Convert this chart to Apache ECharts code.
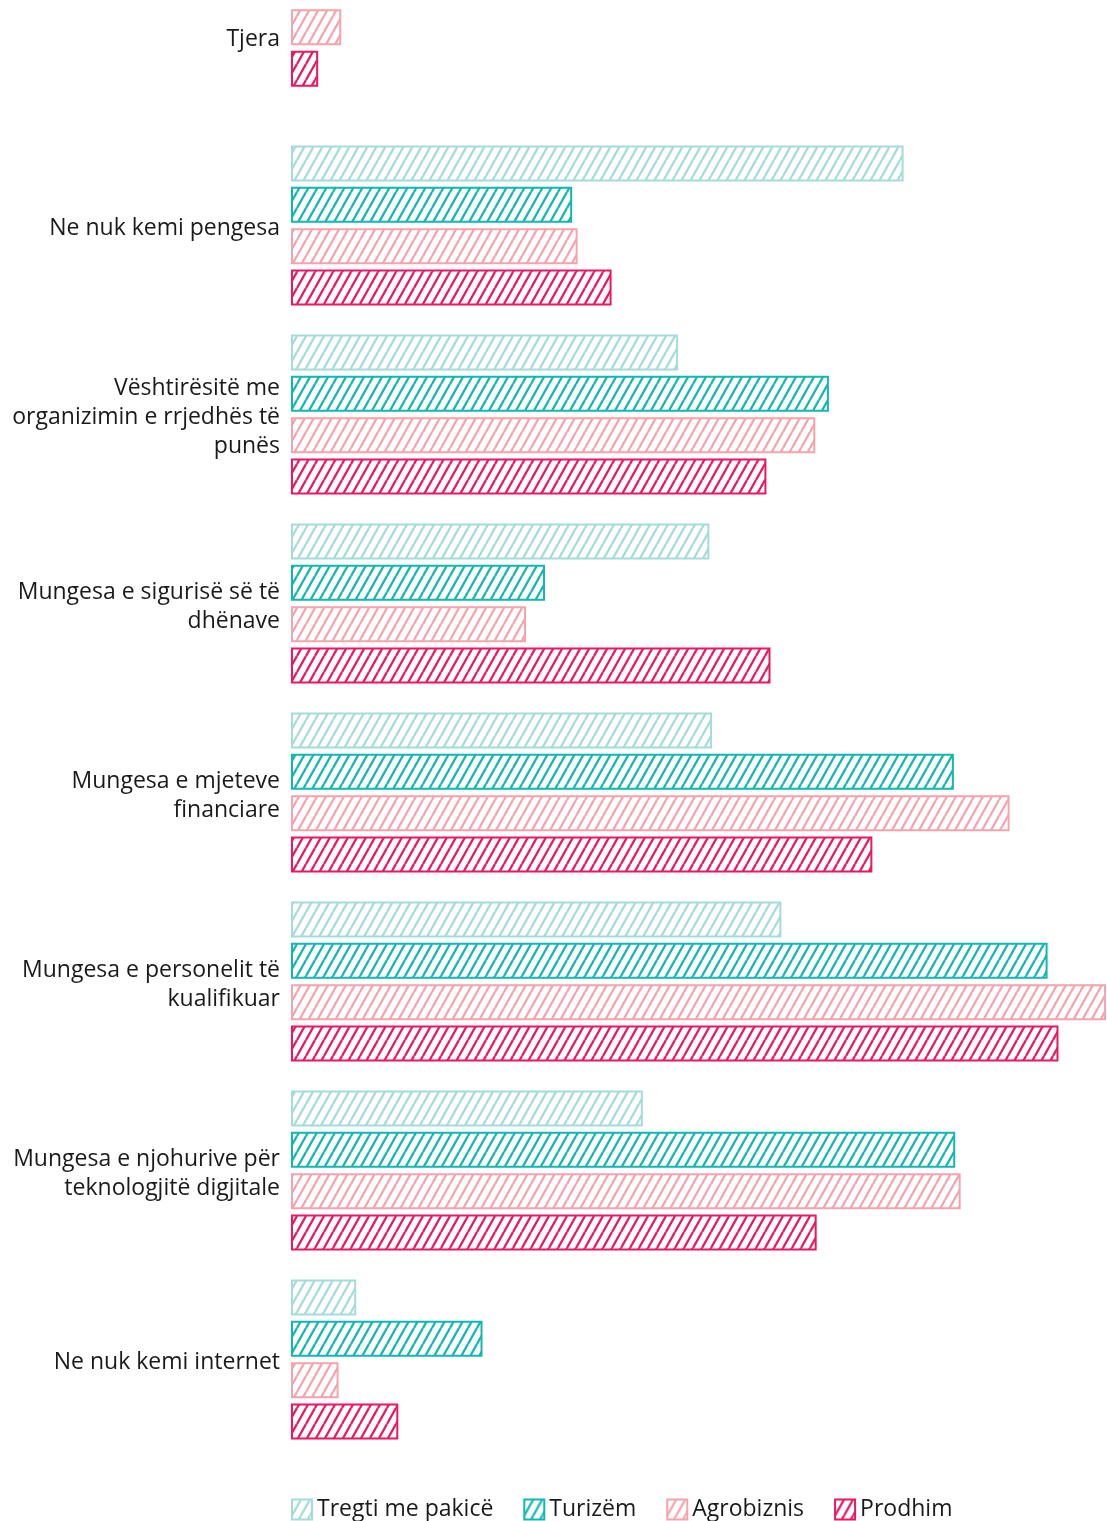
<!DOCTYPE html>
<html>
<head>
<meta charset="utf-8">
<script src="https://cdn.jsdelivr.net/npm/echarts@6/dist/echarts.min.js"></script>
<style>
	html, body { margin: 0; padding: 0; background: #fff; }
	#main { width: 1107px; height: 1521px; }
</style>
</head>
<body>
<div id="main"></div>
<script>
var categories = ['Tjera', 'Ne nuk kemi pengesa', 'Vështirësitë me\norganizimin e rrjedhës të\npunës',
	'Mungesa e sigurisë së të\ndhënave', 'Mungesa e mjeteve\nfinanciare',
	'Mungesa e personelit të\nkualifikuar', 'Mungesa e njohurive për\nteknologjitë digjitale',
	'Ne nuk kemi internet'];
var seriesNames = ['Tregti me pakicë', 'Turizëm', 'Agrobiznis', 'Prodhim'];
// percent, first value is Tjera
var tregti = [null, 45.1, 28.5, 30.8, 31.0, 36.1, 25.9, 4.8];
var turizem = [null, 20.7, 39.6, 18.7, 48.8, 55.7, 48.9, 14.1];
var agrobiznis = [3.7, 21.1, 38.6, 17.3, 52.9, 60.0, 49.3, 3.5];
var prodhim = [2.0, 23.6, 35.0, 35.3, 42.8, 56.5, 38.7, 7.9];
var colors = ['#a3dcd9', '#12b7b1', '#f5a3ac', '#ea1763'];

var byId = function(id) {
	return document.getElementById(id);
};

// steep diagonal hatch
var makeHatch = function(color) {
	var c = document.createElement('canvas');
	c.width = 9;
	c.height = 16;
	var ctx = c.getContext('2d');
	ctx.fillStyle = '#fff';
	ctx.fillRect(0, 0, 9, 16);
	ctx.strokeStyle = color;
	ctx.lineWidth = 2.3;
	ctx.beginPath();
	ctx.moveTo(-9, 16); ctx.lineTo(0, 0);
	ctx.moveTo(0, 16); ctx.lineTo(9, 0);
	ctx.moveTo(9, 16); ctx.lineTo(18, 0);
	ctx.stroke();
	return c;
};

var values = [tregti, turizem, agrobiznis, prodhim];
var series = [];
for (var i = 0; i < 4; i++) {
	var style = {
		color: { image: makeHatch(colors[i]), repeat: 'repeat' },
		borderColor: colors[i],
		borderWidth: 2
	};
	series.push({
		name: seriesNames[i],
		type: 'bar',
		xAxisIndex: 0,
		yAxisIndex: 0,
		barWidth: 36,
		barGap: '15%',
		itemStyle: style,
		data: values[i].slice(1)
	});
	if (values[i][0] != null) {
		series.push({
			name: seriesNames[i],
			type: 'bar',
			xAxisIndex: 1,
			yAxisIndex: 1,
			barWidth: 36,
			barGap: '15%',
			itemStyle: style,
			data: [values[i][0]]
		});
	}
}

var textRich = {
	t: { color: '#1a1a1a', fontFamily: 'Open Sans', fontSize: 23, lineHeight: 29 },
	s: { fontSize: 1, lineHeight: 6 }
};

// small spacer line on top pushes the label a few px down
var labelFormatter = function(value) {
	return '{s| }\n' + value.split('\n').map(function(l) {
		return '{t|' + l + '}';
	}).join('\n');
};

var option = {
	animation: false,
	textStyle: { fontFamily: 'Open Sans' },
	legend: {
		data: seriesNames,
		icon: 'rect',
		left: 286,
		top: 1493,
		itemWidth: 20,
		itemHeight: 20,
		itemGap: 30,
		textStyle: { color: '#1a1a1a', fontSize: 23, fontFamily: 'Open Sans' }
	},
	grid: [
		{ left: 291, right: 1, top: 131, height: 1323 },
		{ left: 291, right: 1, top: 10, height: 76 }
	],
	xAxis: [
		{ type: 'value', gridIndex: 0, min: 0, max: 60, show: false },
		{ type: 'value', gridIndex: 1, min: 0, max: 60, show: false }
	],
	yAxis: [{
		type: 'category',
		gridIndex: 0,
		inverse: true,
		data: categories.slice(1),
		axisLine: { show: false },
		axisTick: { show: false },
		axisLabel: { margin: 11, align: 'right', formatter: labelFormatter, rich: textRich }
	}, {
		type: 'category',
		gridIndex: 1,
		inverse: true,
		data: categories.slice(0, 1),
		axisLine: { show: false },
		axisTick: { show: false },
		axisLabel: {
			color: '#1a1a1a',
			fontFamily: 'Open Sans',
			fontSize: 23,
			margin: 11,
			verticalAlign: 'bottom',
			lineHeight: 18
		}
	}],
	series: series
};

var chart = echarts.init(byId('main'));
chart.setOption(option);
</script>
</body>
</html>
